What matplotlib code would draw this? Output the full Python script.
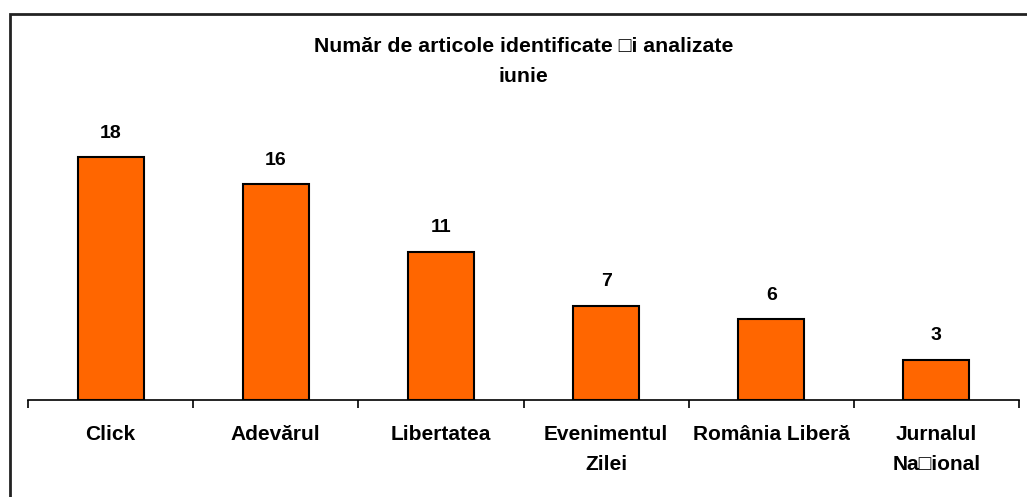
import matplotlib
matplotlib.use("Agg")
import matplotlib.pyplot as plt
from matplotlib.patches import Rectangle

categories = ["Click", "Adevărul", "Libertatea", "Evenimentul\nZilei",
              "România Liberă", "Jurnalul\nNa\u25a1ional"]
values = [18, 16, 11, 7, 6, 3]
title = "Număr de articole identificate \u25a1i analizate\niunie"

W, H, DPI = 1027, 497, 100
fig = plt.figure(figsize=(W / DPI, H / DPI), dpi=DPI)
plt.rcParams['font.family'] = ['Liberation Sans', 'DejaVu Sans']

def px(x0, y0, x1, y1):
    return [x0 / W, 1 - y1 / H, (x1 - x0) / W, (y1 - y0) / H]

ax = fig.add_axes(px(28, 130, 1019, 400))
x = list(range(len(values)))
ax.bar(x, values, width=0.40, color="#FF6600", edgecolor="black", linewidth=1.5, zorder=3)
ax.set_xlim(-0.5, len(values) - 0.5)
ax.set_ylim(0, 20)

for xi, v in zip(x, values):
    ax.annotate(str(v), (xi, v), xytext=(0, 15), textcoords="offset pixels",
                ha="center", va="bottom", fontsize=14, fontweight="bold")

for s in ["top", "right", "left"]:
    ax.spines[s].set_visible(False)
ax.spines["bottom"].set_linewidth(1.2)
ax.set_yticks([])
ax.set_xticks(x)
ax.set_xticklabels(categories, fontsize=15, fontweight="bold", linespacing=1.75)
ax.tick_params(axis="x", which="major", length=0, pad=18)
ax.set_xticks([i - 0.5 for i in range(len(values) + 1)], minor=True)
ax.tick_params(axis="x", which="minor", length=6, width=1.2, direction="out")

fig.text(523.5 / W, 1 - 37 / H, title, ha="center", va="top",
         fontsize=15.3, fontweight="bold", linespacing=1.72)

fig.patches.append(Rectangle((10 / W, -0.1), 1.2, 1 - 14 / H + 0.1,
                             transform=fig.transFigure, fill=False,
                             edgecolor="#222222", linewidth=2, clip_on=False))

fig.savefig("out.png", dpi=DPI)
